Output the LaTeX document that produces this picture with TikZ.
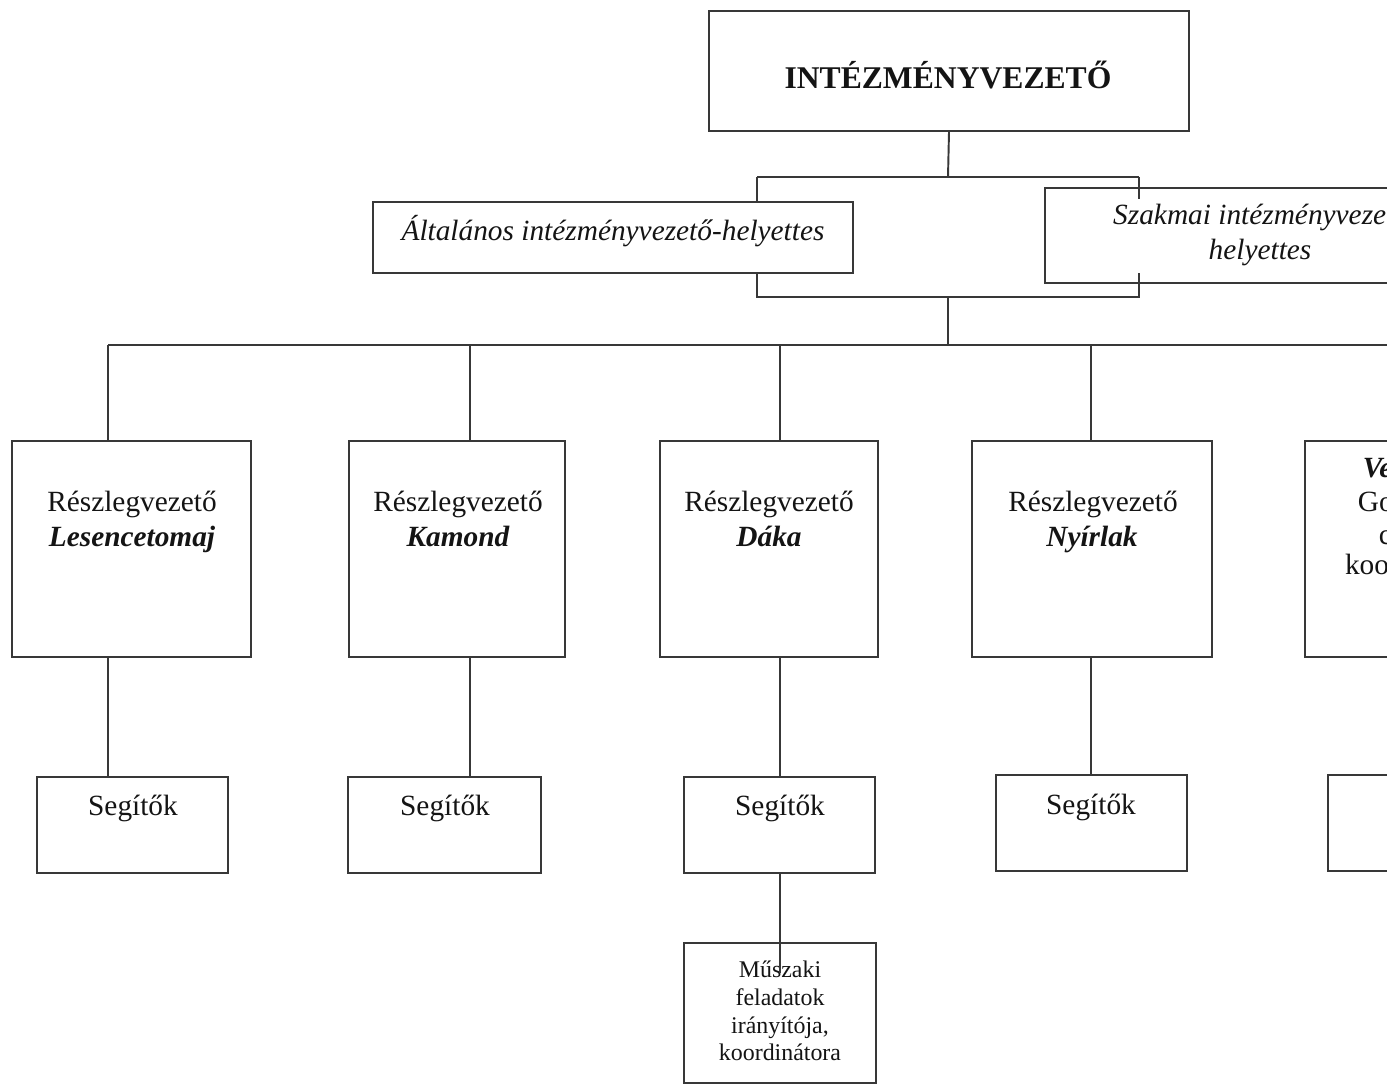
\documentclass[tikz,border=0pt]{standalone}
\usepackage{fontspec}
\setmainfont{Liberation Serif}
\usetikzlibrary{fit}
\begin{document}
\begin{tikzpicture}[x=0.02cm,y=-0.02cm,
  line/.style={draw=black!78,line width=1.1pt},
  box/.style={line,rectangle,inner sep=0pt},
  lbl/.style={inner sep=0pt,anchor=base,text=black!92,font=\fontsize{16.7}{19.8}\selectfont},
  lblsmall/.style={lbl,font=\fontsize{13.6}{15.9}\selectfont},
  lblhead/.style={lbl,font=\fontsize{18}{21}\selectfont\bfseries},
]
\useasboundingbox (0,0) rectangle (1387,1084);
\fill[white] (0,0) rectangle (1387,1084);
\clip (0,0) rectangle (1387,1084);

% --- head of the institution
\node[box,fit={(709,11)(1189,131)}] (head) {};
\node[lblhead] (headT) at (948,89) {INTÉZMÉNYVEZETŐ};

% --- deputies
\node[box,fit={(373,202)(853,273)}] (gen) {};
\node[lbl,font=\fontsize{16.7}{19.8}\selectfont\itshape] (genT) at (613,241) {Általános intézményvezető-helyettes};
\node[box,fit={(1045,188)(1475,283)}] (prof) {};
\node[lbl,font=\fontsize{16.7}{19.8}\selectfont\itshape] (profT1) at (1266,225) {Szakmai intézményvezető-};
\node[lbl,font=\fontsize{16.7}{19.8}\selectfont\itshape] (profT2) at (1260,260) {helyettes};

% --- department heads
\node[box,fit={(12,441)(251,657)}] (r1) {};
\node[box,fit={(349,441)(565,657)}] (r2) {};
\node[box,fit={(660,441)(878,657)}] (r3) {};
\node[box,fit={(972,441)(1212,657)}] (r4) {};
\node[box,fit={(1305,441)(1545,657)}] (r5) {};

\node[lbl] (r1a) at (132,512) {Részlegvezető};
\node[lbl,font=\fontsize{16.7}{19.8}\selectfont\bfseries\itshape] (r1b) at (132,547) {Lesencetomaj};
\node[lbl] (r2a) at (458,512) {Részlegvezető};
\node[lbl,font=\fontsize{16.7}{19.8}\selectfont\bfseries\itshape] (r2b) at (458,547) {Kamond};
\node[lbl] (r3a) at (769,512) {Részlegvezető};
\node[lbl,font=\fontsize{16.7}{19.8}\selectfont\bfseries\itshape] (r3b) at (769,547) {Dáka};
\node[lbl] (r4a) at (1093,512) {Részlegvezető};
\node[lbl,font=\fontsize{16.7}{19.8}\selectfont\bfseries\itshape] (r4b) at (1092,547) {Nyírlak};
\node[lbl,font=\fontsize{16.7}{19.8}\selectfont\bfseries\itshape] (r5a) at (1420,478) {Veszprém};
\node[lbl] (r5b) at (1432,512) {Gondnokság};
\node[lbl] (r5c) at (1422,544) {csoport};
\node[lbl] (r5d) at (1420,575) {koordinátora};

% --- helpers
\node[box,fit={(37,777)(228,873)}] (s1) {};
\node[box,fit={(348,777)(541,873)}] (s2) {};
\node[box,fit={(684,777)(875,873)}] (s3) {};
\node[box,fit={(996,775)(1187,871)}] (s4) {};
\node[box,fit={(1328,775)(1560,871)}] (s5) {};
\node[lbl] (s1T) at (133,815) {Segítők};
\node[lbl] (s2T) at (445,815) {Segítők};
\node[lbl] (s3T) at (780,815) {Segítők};
\node[lbl] (s4T) at (1091,814) {Segítők};

% --- technical coordinator
\node[box,fit={(684,943)(876,1083)}] (tech) {};
\node[lblsmall] (techT1) at (780,977) {Műszaki};
\node[lblsmall] (techT2) at (780,1005) {feladatok};
\node[lblsmall] (techT3) at (780,1033) {irányítója,};
\node[lblsmall] (techT4) at (780,1060) {koordinátora};

% --- connectors: head to deputies
\coordinate (uL) at (757,177);
\coordinate (uR) at (1139,177);
\coordinate (uM) at (948,177);
\coordinate (dL) at (757,297);
\coordinate (dR) at (1139,297);
\coordinate (dM) at (948,297);
\draw[line] (head.south) -- (uM);
\draw[line] (uL) -- (uR);
\draw[line] (uL) -- (uL |- gen.north);
\draw[line] (uR) -- ++(0,22);
\draw[line] (uL |- gen.south) -- (dL) -- (dR) -- ++(0,-24);

% --- connectors: deputies to department heads
\coordinate (bus) at (948,345);
\coordinate (b1) at (108,345);
\coordinate (b2) at (470,345);
\coordinate (b3) at (780,345);
\coordinate (b4) at (1091,345);
\coordinate (b5) at (1425,345);
\draw[line] (dM) -- (bus);
\draw[line] (b1) -- (1400,345);
\draw[line] (b1) -- (b1 |- r1.north);
\draw[line] (b2) -- (b2 |- r2.north);
\draw[line] (b3) -- (b3 |- r3.north);
\draw[line] (b4) -- (b4 |- r4.north);
\draw[line] (b5) -- (b5 |- r5.north);

% --- connectors: department heads to helpers
\draw[line] (r1.south -| b1) -- (b1 |- s1.north);
\draw[line] (r2.south -| b2) -- (b2 |- s2.north);
\draw[line] (r3.south -| b3) -- (b3 |- s3.north);
\draw[line] (r4.south -| b4) -- (b4 |- s4.north);
\draw[line] (r5.south -| b5) -- (b5 |- s5.north);

% --- helpers to technical coordinator
\coordinate (tEnd) at (780,973);
\draw[line] (s3.south -| tEnd) -- (tEnd);
\end{tikzpicture}
\end{document}
